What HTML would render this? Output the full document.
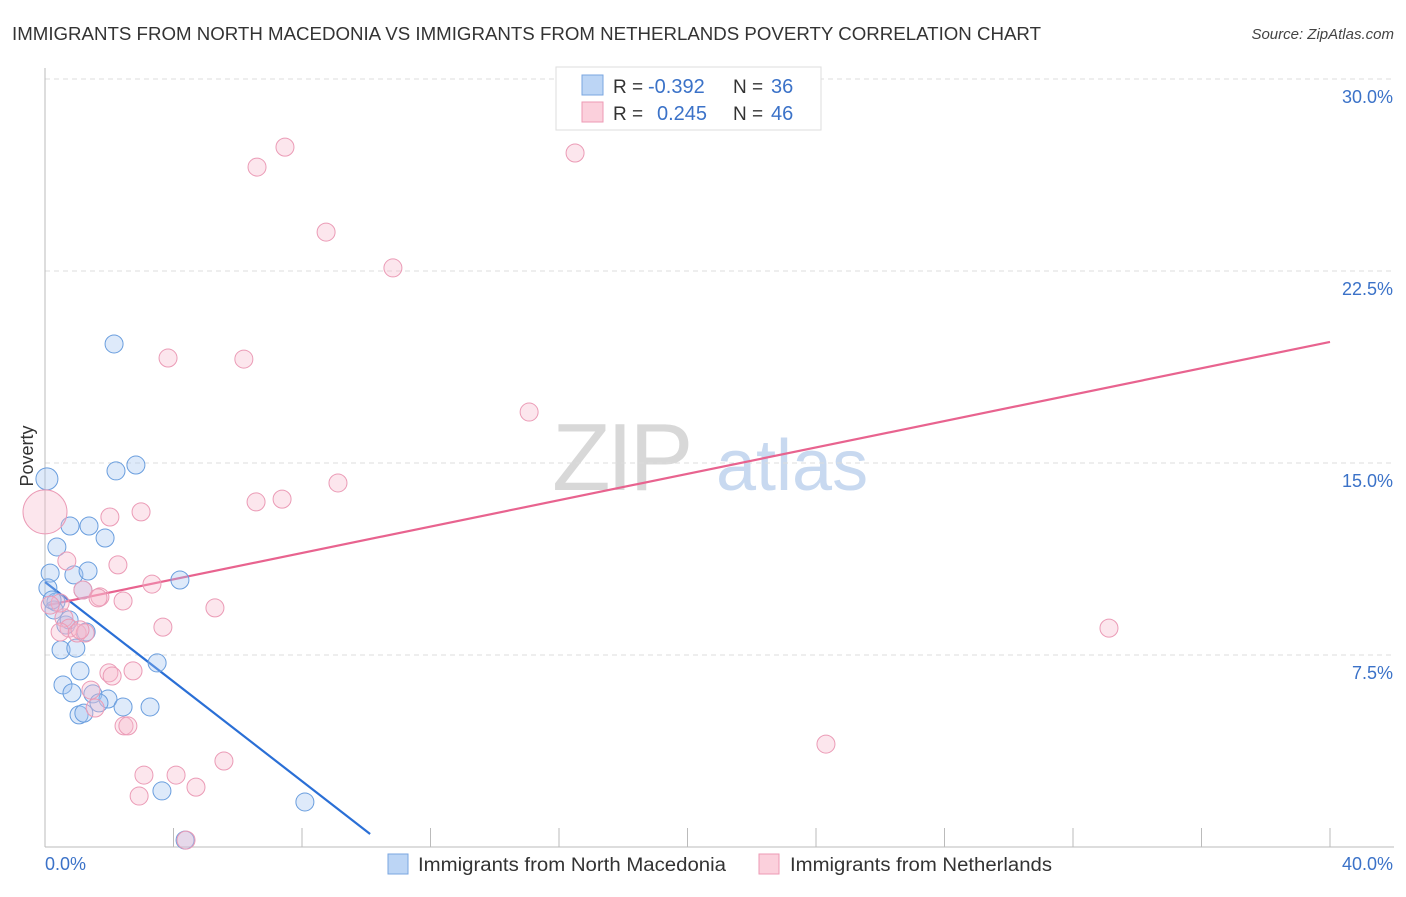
<!DOCTYPE html>
<html><head><meta charset="utf-8"><style>
body{margin:0;background:#fff;font-family:"Liberation Sans",sans-serif;}
svg text{font-family:"Liberation Sans",sans-serif;}
</style></head><body>
<svg id="chart" width="1406" height="892" xmlns="http://www.w3.org/2000/svg">
<text x="12" y="40" font-size="18" fill="#333" textLength="1029" lengthAdjust="spacingAndGlyphs">IMMIGRANTS FROM NORTH MACEDONIA VS IMMIGRANTS FROM NETHERLANDS POVERTY CORRELATION CHART</text>
<text x="1394" y="39" font-size="15" fill="#444" text-anchor="end" font-style="italic">Source: ZipAtlas.com</text>
<g>
<text x="552" y="490" font-size="96" fill="#d8d8d8" font-family="Liberation Serif" letter-spacing="-4">ZIP</text>
<text x="716" y="490" font-size="72" fill="#c8d9f0">atlas</text>
</g>
<g id="grid"></g>
<g id="axes"></g>
<g id="lines"></g>
<g id="points"></g>
<text transform="translate(33,456) rotate(-90)" font-size="18" fill="#333" text-anchor="middle">Poverty</text>
<g>
<rect x="556" y="67" width="265" height="63" fill="#fff" stroke="#ddd"/>
<rect x="582" y="75" width="21" height="20" fill="#bcd5f5" stroke="#7aa6e0"/>
<rect x="582" y="102" width="21" height="20" fill="#fbd0dc" stroke="#ee9ab4"/>
<text x="613" y="93" font-size="19" fill="#333">R =</text>
<text x="648" y="93" font-size="20" fill="#3b72c8">-0.392</text>
<text x="733" y="93" font-size="19" fill="#333">N =</text>
<text x="771" y="93" font-size="20" fill="#3b72c8">36</text>
<text x="613" y="120" font-size="19" fill="#333">R =</text>
<text x="657" y="120" font-size="20" fill="#3b72c8">0.245</text>
<text x="733" y="120" font-size="19" fill="#333">N =</text>
<text x="771" y="120" font-size="20" fill="#3b72c8">46</text>
</g>
<g>
<rect x="388" y="854" width="20" height="20" fill="#bcd5f5" stroke="#7aa6e0"/>
<text x="418" y="871" font-size="19" fill="#333" textLength="308" lengthAdjust="spacingAndGlyphs">Immigrants from North Macedonia</text>
<rect x="759" y="854" width="20" height="20" fill="#fbd0dc" stroke="#ee9ab4"/>
<text x="790" y="871" font-size="19" fill="#333" textLength="262" lengthAdjust="spacingAndGlyphs">Immigrants from Netherlands</text>
</g>
</svg>
<script>
const yTicks=[7.5,15,22.5,30];
const yTickLabels=["7.5%","15.0%","22.5%","30.0%"];
const xTickVals=[0,4,8,12,16,20,24,28,32,36,40];
const xEndLabels=["0.0%","40.0%"];
const blueX=[2.15,0.06,2.21,2.83,0.78,1.37,1.87,0.37,0.16,0.90,1.34,4.20,0.09,1.18,0.34,0.28,0.65,1.28,0.75,0.50,0.96,3.49,1.09,0.56,0.84,1.49,1.96,2.43,3.27,1.06,1.21,1.68,3.64,8.09,4.36,0.22];
const blueY=[19.65,14.38,14.69,14.92,12.54,12.54,12.07,11.72,10.70,10.63,10.78,10.43,10.12,10.04,9.57,9.26,8.67,8.40,8.87,7.70,7.77,7.19,6.88,6.33,6.02,5.98,5.78,5.47,5.47,5.16,5.23,5.63,2.19,1.76,0.27,9.65];
const pinkX=[7.47,6.60,16.50,8.75,10.83,3.83,6.19,15.07,9.12,6.57,7.38,0,2.99,2.02,0.68,2.27,3.33,1.71,1.65,2.43,5.29,1.18,0.59,0.75,0.47,1.00,3.67,1.25,1.99,2.09,2.74,1.43,1.56,2.46,2.58,5.57,3.08,4.08,4.70,2.93,4.39,24.31,33.12,0.47,1.09,0.16];
const pinkY=[27.34,26.56,27.11,24.02,22.62,19.10,19.06,16.99,14.22,13.48,13.59,13.09,13.09,12.89,11.17,11.02,10.27,9.77,9.73,9.61,9.34,10.04,8.95,8.55,8.40,8.36,8.59,8.36,6.80,6.68,6.88,6.13,5.43,4.73,4.73,3.36,2.81,2.81,2.34,1.99,0.27,4.02,8.55,9.53,8.48,9.45];
const blueTrend=[[0,10.35],[10.12,0.51]];
const pinkTrend=[[0.1,9.45],[40,19.73]];
const X=v=>45+v*32.125, Y=v=>847-v*25.6;
const NS="http://www.w3.org/2000/svg";
function mk(tag,parent,attrs){const e=document.createElementNS(NS,tag);for(const k in attrs)e.setAttribute(k,attrs[k]);document.getElementById(parent).appendChild(e);return e;}
yTicks.forEach((t,i)=>{
 const g=mk('line','grid',{x1:45,x2:1394,y1:Y(t),y2:Y(t),stroke:'#ddd','stroke-dasharray':'5,4'});
 
 
 const l=mk('text','grid',{x:1393,y:Y(t)+24,'font-size':18,fill:'#3b72c8','text-anchor':'end'});
 l.textContent=yTickLabels[i];
 
 
});
let a=mk('line','axes',{x1:45,x2:45,y1:68,y2:847,stroke:'#bbb'});


a=mk('line','axes',{x1:45,x2:1394,y1:847,y2:847,stroke:'#bbb'});


xTickVals.forEach(t=>{const e=mk('line','axes',{x1:X(t),x2:X(t),y1:828,y2:847,stroke:'#bbb'});
 
 });
[[0,'start',45],[40,'end',1393]].forEach((d,i)=>{const e=mk('text','axes',{x:d[2],y:870,'font-size':18,fill:'#3b72c8','text-anchor':d[1]});e.textContent=xEndLabels[i];
 
 });
function pts(xs,ys,fill,stroke,name){xs.forEach((x,i)=>{let r=9;if(name==='pink-point'&&x===0)r=22;if(name==='blue-point'&&i===1)r=11;
 const c=mk('circle','points',{cx:X(x),cy:Y(ys[i]),r:r,fill:fill,stroke:stroke,'stroke-width':1});
 
 });}
pts(blueX,blueY,'rgba(160,196,240,0.35)','#6a9ede','blue-point');
pts(pinkX,pinkY,'rgba(247,182,202,0.35)','#eb9bb6','pink-point');
let t1=mk('line','lines',{x1:X(blueTrend[0][0]),y1:Y(blueTrend[0][1]),x2:X(blueTrend[1][0]),y2:Y(blueTrend[1][1]),stroke:'#2a6fd6','stroke-width':2.2});


let t2=mk('line','lines',{x1:X(pinkTrend[0][0]),y1:Y(pinkTrend[0][1]),x2:X(pinkTrend[1][0]),y2:Y(pinkTrend[1][1]),stroke:'#e8638f','stroke-width':2.2});


</script>
</body></html>
